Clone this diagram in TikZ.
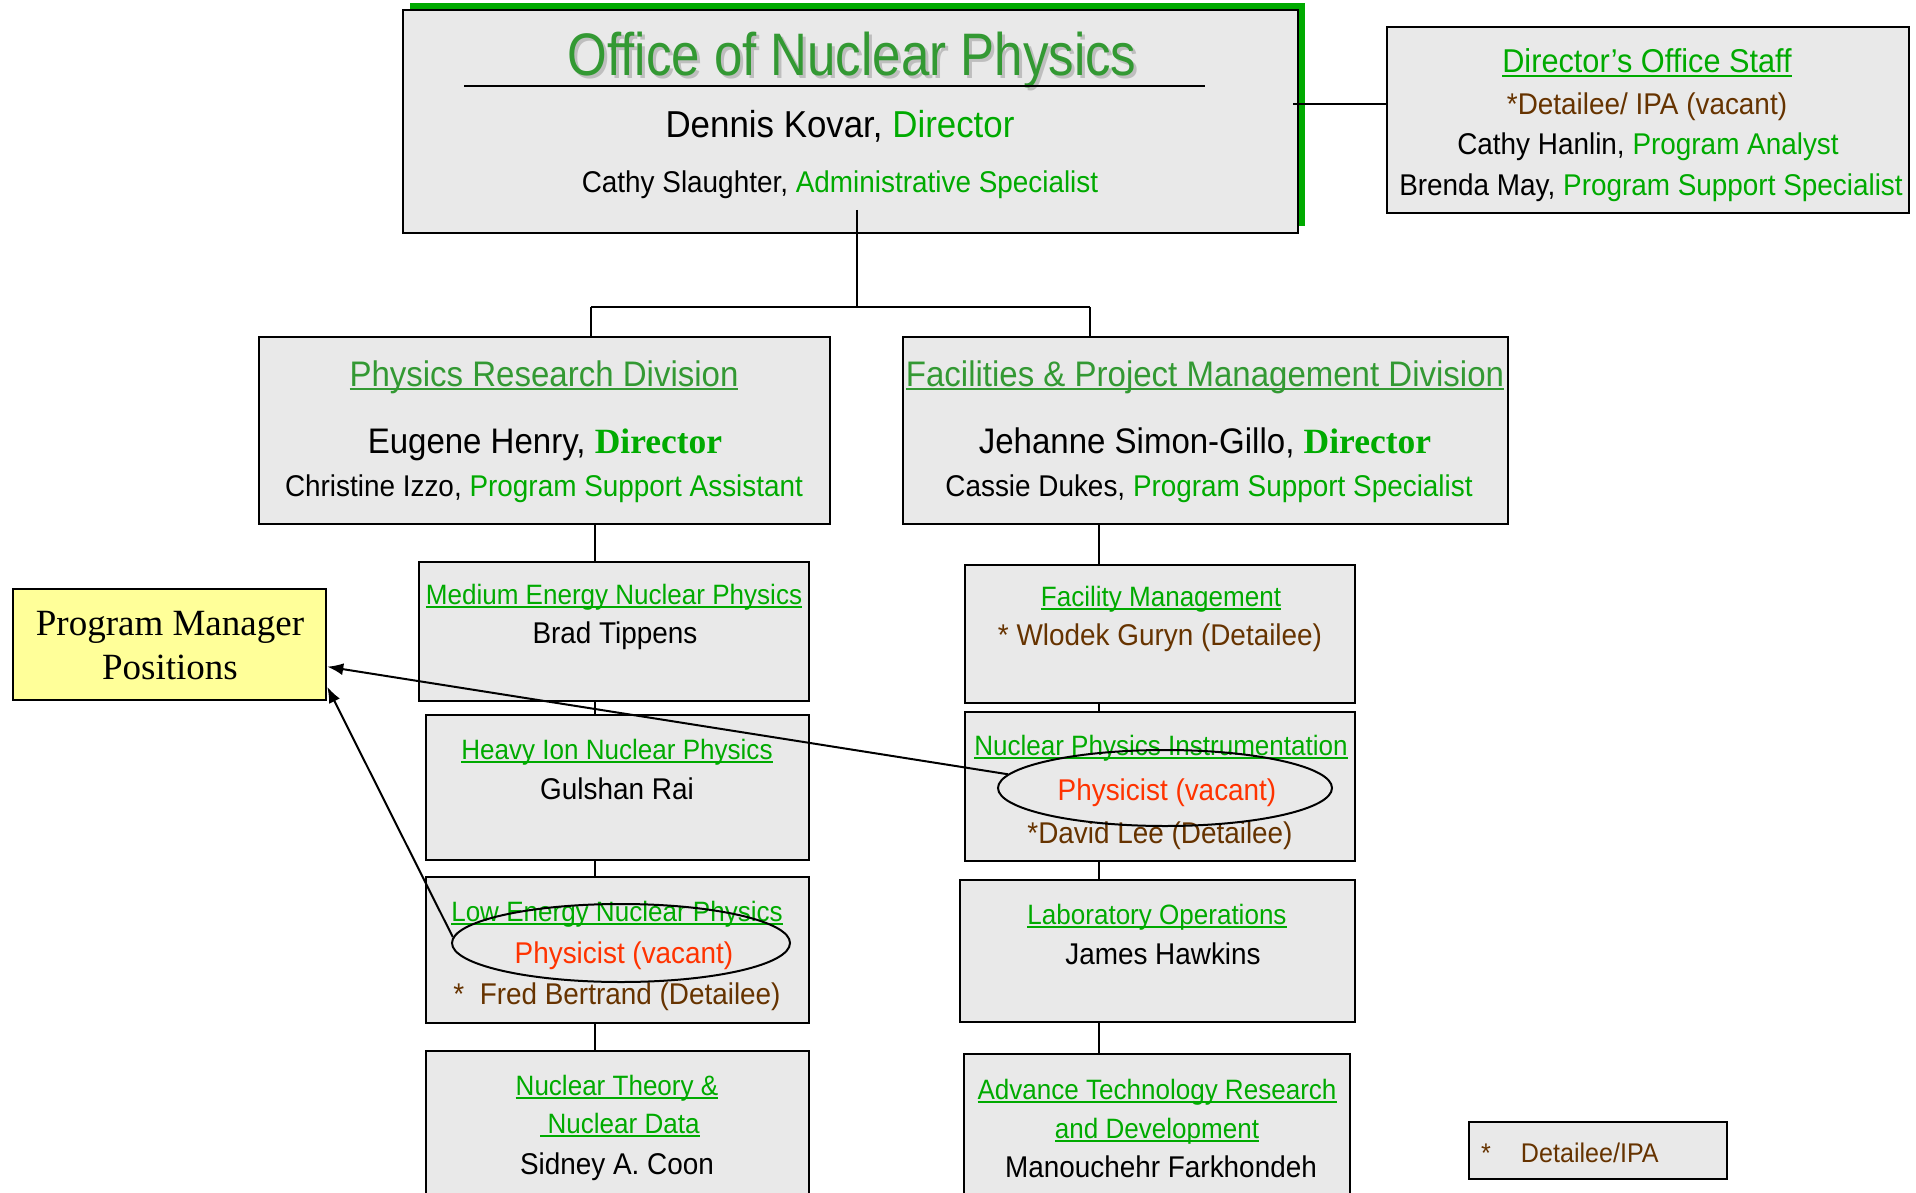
\documentclass[tikz,border=0pt]{standalone}
\usepackage{fontspec}
\setmainfont{Liberation Sans}[FakeStretch=0.93]
\newfontfamily\narrowsf{Liberation Sans}[FakeStretch=0.85]
\newfontfamily\timesrm{Liberation Serif}
\usetikzlibrary{shapes.geometric, arrows.meta, shadows}

\definecolor{boxgray}{RGB}{233,233,233}
\definecolor{ttlgreen}{RGB}{51,153,51}
\definecolor{brgreen}{RGB}{0,170,0}
\definecolor{detbrown}{RGB}{102,51,0}
\definecolor{vacred}{RGB}{255,51,0}
\definecolor{pmyellow}{RGB}{255,255,153}
\definecolor{ttlshade}{RGB}{190,190,190}

\newcommand{\fTtl}{\narrowsf\fontsize{60}{66}\selectfont}
\newcommand{\fBig}{\fontsize{37.5}{42}\selectfont}
\newcommand{\fMid}{\fontsize{30}{34}\selectfont}
\newcommand{\fStaff}{\fontsize{33}{38}\selectfont}
\newcommand{\fDiv}{\fontsize{35.5}{40}\selectfont}
\newcommand{\fSub}{\fontsize{28}{32}\selectfont}
\newcommand{\fName}{\fontsize{30}{34}\selectfont}
\newcommand{\fPm}{\timesrm\fontsize{37}{42}\selectfont}
\newcommand{\fLeg}{\fontsize{27}{32}\selectfont}
\newcommand{\dirbf}{\textcolor{brgreen}{\timesrm\bfseries Director}}
\newsavebox{\undlbox}
\newcommand{\undl}[1]{\sbox{\undlbox}{#1}\rlap{\rule[-4pt]{\wd\undlbox}{2pt}}\usebox{\undlbox}}

\begin{document}
\begin{tikzpicture}[x=1pt, y=-1pt,
  box/.style={draw, line width=2pt, fill=boxgray, inner sep=0pt},
  txt/.style={anchor=base, inner sep=0pt},
  wire/.style={line width=1.6pt},
  oval/.style={draw, ellipse, line width=2pt, inner sep=0pt},
  pmarrow/.style={line width=2pt, -{Latex[length=16pt, width=12pt]}}
]
  \useasboundingbox (0,0) rectangle (1916,1193);
  \clip (0,0) rectangle (1916,1193);
  \fill[white] (0,0) rectangle (1916,1193);

  % office of the director
  \node[box, minimum width=895pt, minimum height=223pt,
    drop shadow={shadow xshift=7pt, shadow yshift=7pt, fill=brgreen, opacity=1}] (onp) at (850.5,121.5) {};
  \node[txt, text=ttlshade] (ttl-shade) at (855,79) {\fTtl Office of Nuclear Physics};
  \node[txt, text=ttlgreen] (ttl) at (852,76) {\fTtl Office of Nuclear Physics};
  \draw[line width=1.5pt] (464,86) -- (1205,86);
  \node[txt] (onp-dir) at (840,138) {\fBig Dennis Kovar, \textcolor{brgreen}{Director}};
  \node[txt] (onp-adm) at (840,193) {\fMid Cathy Slaughter, \textcolor{brgreen}{Administrative Specialist}};

  \node[box, minimum width=522pt, minimum height=186pt] (staff) at (1648,120) {};
  \node[txt] (staff-t) at (1647,73) {\fStaff\textcolor{brgreen}{\undl{Director’s Office Staff}}};
  \node[txt, text=detbrown] (staff-1) at (1647,115) {\fMid *Detailee/ IPA (vacant)};
  \node[txt] (staff-2) at (1648,155) {\fMid Cathy Hanlin, \textcolor{brgreen}{Program Analyst}};
  \node[txt] (staff-3) at (1651,196) {\fMid Brenda May, \textcolor{brgreen}{Program Support Specialist}};

  % divisions
  \node[box, minimum width=571pt, minimum height=187pt] (prd) at (544.5,430.5) {};
  \node[txt] (prd-t) at (544,386) {\fDiv\textcolor{ttlgreen}{\undl{Physics Research Division}}};
  \node[txt] (prd-d) at (545,453) {\fDiv Eugene Henry, \dirbf};
  \node[txt] (prd-a) at (544,496) {\fMid Christine Izzo, \textcolor{brgreen}{Program Support Assistant}};

  \node[box, minimum width=605pt, minimum height=187pt] (fpmd) at (1205.5,430.5) {};
  \node[txt] (fpmd-t) at (1205,386) {\fDiv\textcolor{ttlgreen}{\undl{Facilities \& Project Management Division}}};
  \node[txt] (fpmd-d) at (1205,453) {\fDiv Jehanne Simon-Gillo, \dirbf};
  \node[txt] (fpmd-a) at (1209,496) {\fMid Cassie Dukes, \textcolor{brgreen}{Program Support Specialist}};

  % physics research programs
  \node[box, minimum width=390pt, minimum height=139pt] (menp) at (614,631.5) {};
  \node[txt] (menp-t) at (614,604) {\fSub\textcolor{brgreen}{\undl{Medium Energy Nuclear Physics}}};
  \node[txt] (menp-n) at (615,643) {\fName Brad Tippens};

  \node[box, minimum width=383pt, minimum height=145pt] (hinp) at (617.5,787.5) {};
  \node[txt] (hinp-t) at (617,759) {\fSub\textcolor{brgreen}{\undl{Heavy Ion Nuclear Physics}}};
  \node[txt] (hinp-n) at (617,799) {\fName Gulshan Rai};

  \node[box, minimum width=383pt, minimum height=146pt] (lenp) at (617.5,950) {};
  \node[txt] (lenp-t) at (617,921) {\fSub\textcolor{brgreen}{\undl{Low Energy Nuclear Physics}}};
  \node[txt, text=vacred] (lenp-ph) at (624,963) {\fName Physicist (vacant)};
  \node[txt, text=detbrown] (lenp-n) at (617,1004) {\fName *~~Fred Bertrand (Detailee)};
  \node[oval, minimum width=338pt, minimum height=78pt] (lenp-vac) at (621,943) {};

  \node[box, minimum width=383pt, minimum height=149pt] (ntnd) at (617.5,1125.5) {};
  \node[txt] (ntnd-t1) at (617,1095) {\fSub\textcolor{brgreen}{\undl{Nuclear Theory \&}}};
  \node[txt] (ntnd-t2) at (620,1133) {\fSub\textcolor{brgreen}{\undl{~Nuclear Data}}};
  \node[txt] (ntnd-n) at (617,1174) {\fName Sidney A. Coon};

  % facilities and projects
  \node[box, minimum width=390pt, minimum height=138pt] (fm) at (1160,634) {};
  \node[txt] (fm-t) at (1161,606) {\fSub\textcolor{brgreen}{\undl{Facility Management}}};
  \node[txt, text=detbrown] (fm-n) at (1160,645) {\fName * Wlodek Guryn (Detailee)};

  \node[box, minimum width=390pt, minimum height=149pt] (npi) at (1160,786.5) {};
  \node[txt] (npi-t) at (1161,755) {\fSub\textcolor{brgreen}{\undl{Nuclear Physics Instrumentation}}};
  \node[txt, text=vacred] (npi-ph) at (1167,800) {\fName Physicist (vacant)};
  \node[txt, text=detbrown] (npi-n) at (1160,843) {\fName *David Lee (Detailee)};
  \node[oval, minimum width=334pt, minimum height=76pt] (npi-vac) at (1165,788) {};

  \node[box, minimum width=395pt, minimum height=142pt] (lo) at (1157.5,951) {};
  \node[txt] (lo-t) at (1157,924) {\fSub\textcolor{brgreen}{\undl{Laboratory Operations}}};
  \node[txt] (lo-n) at (1163,964) {\fName James Hawkins};

  \node[box, minimum width=386pt, minimum height=146pt] (atrd) at (1157,1127) {};
  \node[txt] (atrd-t1) at (1157,1099) {\fSub\textcolor{brgreen}{\undl{Advance Technology Research}}};
  \node[txt] (atrd-t2) at (1157,1138) {\fSub\textcolor{brgreen}{\undl{and Development}}};
  \node[txt] (atrd-n) at (1161,1177) {\fName Manouchehr Farkhondeh};

  % program managers and legend
  \node[draw, line width=2.5pt, fill=pmyellow, minimum width=313pt, minimum height=111pt, inner sep=0pt] (pm) at (169.5,644.5) {};
  \node[txt] (pm-1) at (170,635) {\fPm Program Manager};
  \node[txt] (pm-2) at (170,679) {\fPm Positions};

  \node[box, minimum width=258pt, minimum height=57pt] (legend) at (1598,1150.5) {};
  \node[txt, anchor=base west, text=detbrown] (leg-t) at (1481,1162) {\fLeg *\hspace{30pt}Detailee/IPA};

  % connectors
  \coordinate (stem) at (857,210);
  \coordinate (forkL) at (591,307);
  \coordinate (forkR) at (1090,307);
  \coordinate (staffin) at (1293,104);
  \coordinate (colL) at (595,0);
  \coordinate (colR) at (1099,0);
  \draw[wire] (stem) -- (stem |- forkL);
  \draw[wire] (forkL) -- (forkR);
  \draw[wire] (forkL) -- (forkL |- prd.north);
  \draw[wire] (forkR) -- (forkR |- fpmd.north);
  \draw[wire] (staffin) -- (staffin -| staff.west);
  \foreach \a/\b in {prd/menp, menp/hinp, hinp/lenp, lenp/ntnd}
    \draw[wire] (\a.south -| colL) -- (\b.north -| colL);
  \foreach \a/\b in {fpmd/fm, fm/npi, npi/lo, lo/atrd}
    \draw[wire] (\a.south -| colR) -- (\b.north -| colR);

  \draw[pmarrow] (npi-vac.175) -- (pm.-8);
  \draw[pmarrow] (lenp-vac.178) -- (pm.-15);
\end{tikzpicture}
\end{document}
